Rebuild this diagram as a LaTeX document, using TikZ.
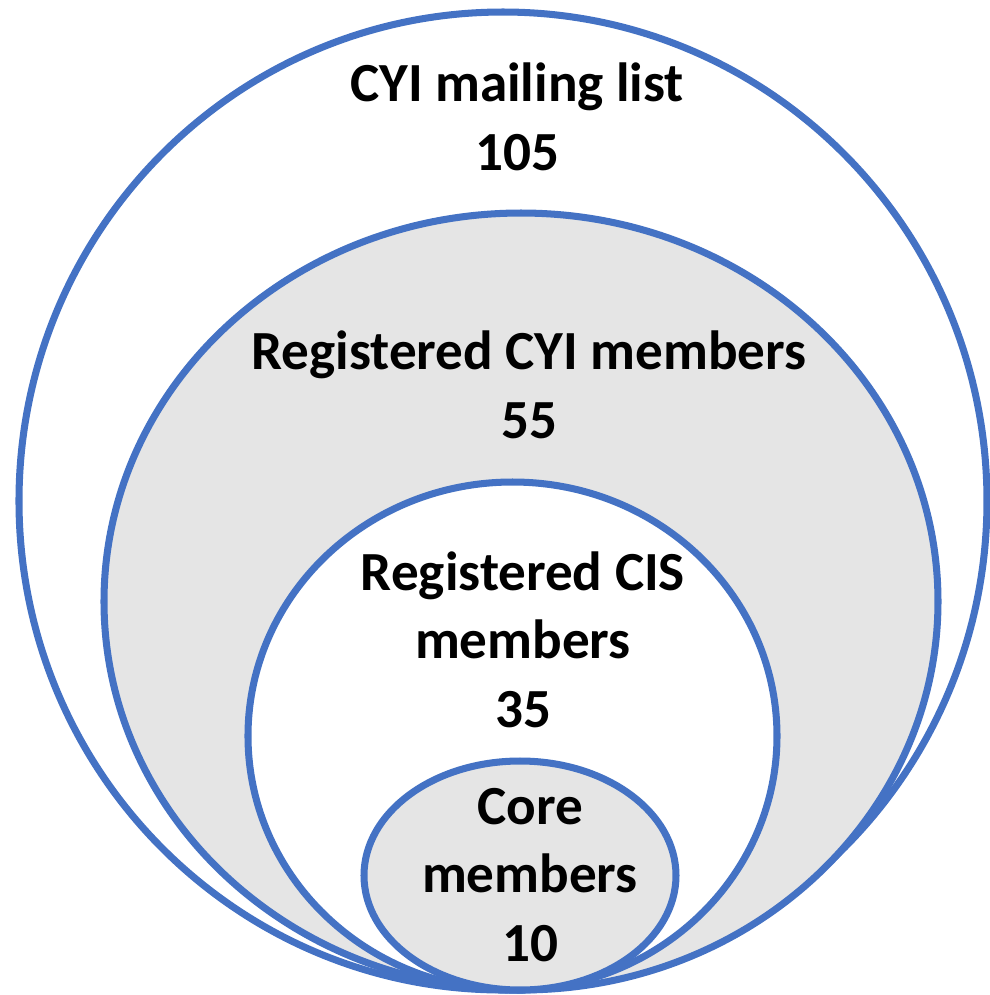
\documentclass[tikz,border=0pt]{standalone}
\usepackage{fontspec}
\setmainfont{Carlito}
\definecolor{ringblue}{HTML}{4472C4}
\definecolor{ringgray}{HTML}{E5E5E5}
\tikzset{
  ring/.style={draw=ringblue, line width=2pt},
  lbl/.style={font=\bfseries\fontsize{15.7}{19.4}\selectfont, align=center, anchor=base, inner sep=0pt}
}
\begin{document}
\begin{tikzpicture}[scale=1]
    \useasboundingbox (0,0) rectangle (9.89,-9.95);

    % Elipses
    \draw[ring, fill=white] (5.03,-5.01) ellipse (4.84 and 4.89);
    \draw[ring, fill=ringgray] (5.21,-6.015) ellipse (4.17 and 3.885);
    \draw[ring, fill=white] (5.125,-7.36) ellipse (2.645 and 2.54);
    \draw[ring, fill=ringgray] (5.20,-8.755) ellipse (1.56 and 1.145);

    % Textos (base = ultima linea)
    \node[lbl] (mailing) at (5.17,-1.70) {CYI mailing list\\105};
    \node[lbl] (cyi) at (5.29,-4.38) {Registered CYI members\\55};
    \node[lbl] (cis) at (5.23,-7.27) {Registered CIS\\members\\35};
    \node[lbl] (core) at (5.30,-9.61) {Core\\members\\10};
\end{tikzpicture}
\end{document}
